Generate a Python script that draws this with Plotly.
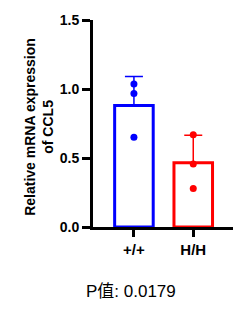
import plotly.graph_objects as go

categories = ["+/+", "H/H"]
means = [0.88, 0.465]
sd_upper = [0.21, 0.20]
points_wt = [1.036, 0.967, 0.650]
points_hh = [0.669, 0.456, 0.279]
colors = ["#0000FF", "#FF0000"]
yticks = [0.0, 0.5, 1.0, 1.5]
ytick_text = ["0.0", "0.5", "1.0", "1.5"]
title_lines = ["Relative mRNA expression", "of CCL5"]
p_text = "P值: 0.0179"

FONT = "Liberation Sans, Arial, sans-serif"

fig = go.Figure()
for i, cat in enumerate(categories):
    fig.add_trace(go.Bar(
        x=[cat], y=[means[i]], width=0.65,
        marker=dict(color="white", line=dict(color=colors[i], width=3)),
        error_y=dict(type="data", symmetric=False, array=[sd_upper[i]], arrayminus=[0],
                     color=colors[i], thickness=1.5, width=9),
        showlegend=False,
    ))
for pts, cat, c in [(points_wt, categories[0], colors[0]), (points_hh, categories[1], colors[1])]:
    fig.add_trace(go.Scatter(
        x=[cat] * len(pts), y=pts, mode="markers",
        marker=dict(color=c, size=7), showlegend=False,
    ))

fig.update_layout(
    width=248, height=311,
    margin=dict(l=93, r=15, t=17, b=84),
    plot_bgcolor="white", paper_bgcolor="white",
    font=dict(family=FONT, color="black"),
    barmode="overlay",
    xaxis=dict(
        type="category", range=[-0.69, 1.67],
        showline=True, linecolor="black", linewidth=3,
        ticks="outside", ticklen=7, tickwidth=3, tickcolor="black",
        tickfont=dict(size=15, family=FONT, weight="bold"),
        showgrid=False, zeroline=False,
    ),
    yaxis=dict(
        range=[0, 1.5], tickvals=yticks, ticktext=ytick_text,
        showline=True, linecolor="black", linewidth=3,
        ticks="outside", ticklen=8, tickwidth=3, tickcolor="black",
        tickfont=dict(size=14, family=FONT, weight="bold"),
        showgrid=False, zeroline=False,
    ),
    annotations=[
        dict(text=title_lines[0], xref="paper", yref="paper",
             x=-0.447, y=0.486, textangle=-90, showarrow=False,
             xanchor="center", yanchor="middle",
             font=dict(size=14, family=FONT, weight="bold")),
        dict(text=title_lines[1], xref="paper", yref="paper",
             x=-0.319, y=0.486, textangle=-90, showarrow=False,
             xanchor="center", yanchor="middle",
             font=dict(size=14, family=FONT, weight="bold")),
        dict(text=p_text, xref="paper", yref="paper", x=0.273, y=-0.31,
             showarrow=False, xanchor="center", yanchor="middle",
             font=dict(size=17, family="Liberation Sans, Noto Sans CJK SC, sans-serif")),
    ],
)

fig.write_html("out.html")
